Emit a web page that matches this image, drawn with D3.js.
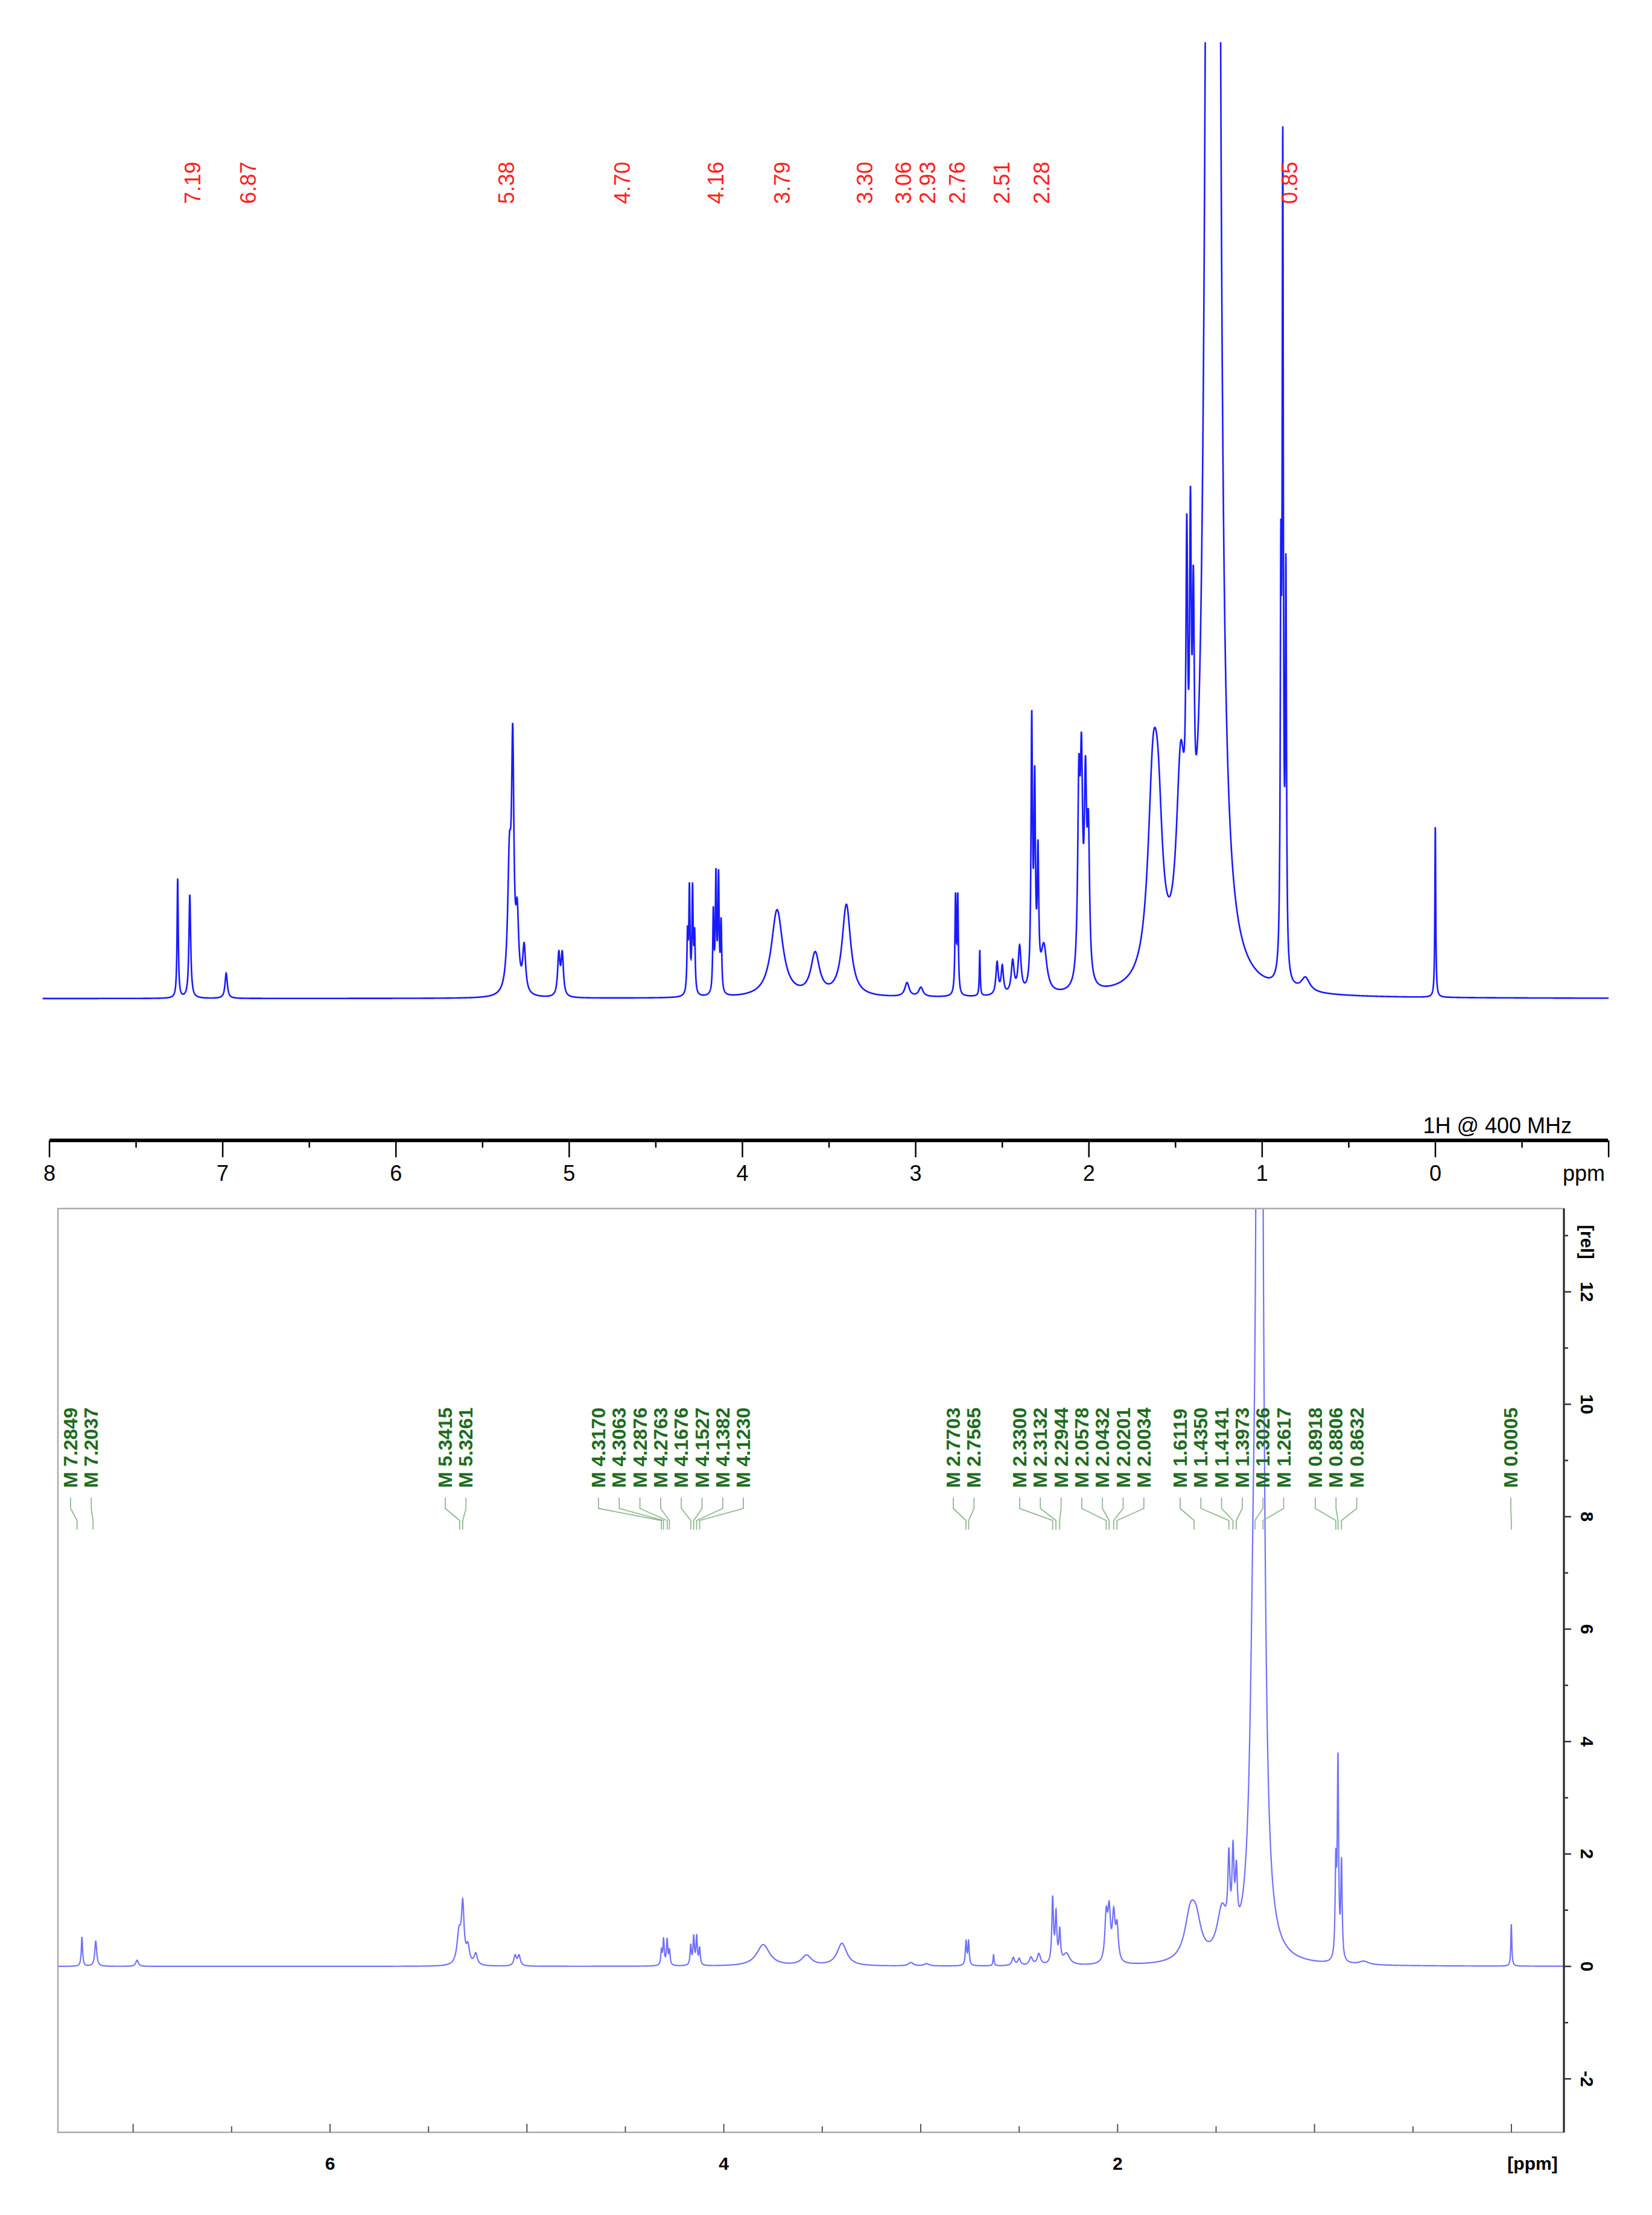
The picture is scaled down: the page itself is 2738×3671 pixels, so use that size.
<!DOCTYPE html>
<html><head><meta charset="utf-8">
<script src="https://cdn.jsdelivr.net/npm/d3@7"></script>
<style>body{margin:0;background:#fff}svg{display:block}</style>
</head><body>
<script>
// Peak list (ppm, height in rel units, half-width in ppm)
const peakPpm = [7.26,7.19,6.98,5.345,5.326,5.30,5.26,5.06,5.04,4.317,4.306,4.288,4.276,4.168,4.153,4.138,4.123,3.80,3.58,3.40,3.05,2.97,2.770,2.757,2.63,2.53,2.50,2.44,2.40,2.330,2.313,2.294,2.26,2.058,2.043,2.020,2.003,1.63,1.60,1.47,1.435,1.414,1.397,1.31,1.28,1.262,0.892,0.881,0.863,0.75,0.0005];
const peakH   = [0.52,0.45,0.11,0.55,1.0,0.3,0.2,0.18,0.18,0.25,0.45,0.45,0.25,0.35,0.5,0.5,0.3,0.38,0.18,0.4,0.06,0.04,0.42,0.42,0.2,0.14,0.12,0.14,0.2,1.15,0.85,0.55,0.2,0.8,0.85,0.8,0.6,0.8,0.5,0.8,1.3,1.4,1.0,4.2,60,4,1.6,3.5,1.7,0.06,0.75];
const peakW   = [0.004,0.006,0.008,0.012,0.008,0.01,0.01,0.008,0.008,0.004,0.004,0.004,0.004,0.004,0.004,0.004,0.004,0.04,0.03,0.03,0.015,0.015,0.004,0.004,0.003,0.008,0.008,0.01,0.01,0.005,0.005,0.005,0.02,0.008,0.008,0.008,0.008,0.035,0.03,0.03,0.006,0.006,0.006,0.02,0.008,0.018,0.004,0.004,0.004,0.03,0.003];
// Tick / label data
const topTicks = [8,7,6,5,4,3,2,1,0];
const redLabels = ["7.19","6.87","5.38","4.70","4.16","3.79","3.30","3.06","2.93","2.76","2.51","2.28","0.85"];
const redPos = [7.17,6.85,5.36,4.69,4.15,3.77,3.29,3.07,2.93,2.76,2.50,2.27,0.84];
const greenGroups = [
 {labels:["7.2849","7.2037"],x0:117},
 {labels:["5.3415","5.3261"],x0:738},
 {labels:["4.3170","4.3063","4.2876","4.2763","4.1676","4.1527","4.1382","4.1230"],x0:992},
 {labels:["2.7703","2.7565"],x0:1580},
 {labels:["2.3300","2.3132","2.2944","2.0578","2.0432","2.0201","2.0034"],x0:1690},
 {labels:["1.6119","1.4350","1.4141","1.3973","1.3026","1.2617"],x0:1956},
 {labels:["0.8918","0.8806","0.8632"],x0:2180},
 {labels:["0.0005"],x0:2504}];
const relTicks = [-2,0,2,4,6,8,10,12];
const ppmTicks2 = [6,4,2];

const W=2738,H=3671;
const svg=d3.select("body").append("svg").attr("width",W).attr("height",H);
const f=p=>{let s=0;for(let i=0;i<peakPpm.length;i++){const d=(p-peakPpm[i])/peakW[i];s+=peakH[i]/(1+d*d);}return s;};
const pts=d3.range(-1.0,8.04,0.0008).map(p=>[p,f(p)]);

// Top panel
const xT=d3.scaleLinear().domain([8,0]).range([82,2379]);
const yT=d3.scaleLinear().domain([0,1]).range([1655,1275]);
svg.append("clipPath").attr("id","ct").append("rect").attr("x",0).attr("y",70).attr("width",W).attr("height",1700);
svg.append("path").datum(pts).attr("clip-path","url(#ct)")
 .attr("d",d3.line().x(d=>xT(d[0])).y(d=>yT(d[1]))).attr("fill","none").attr("stroke","#1a1aff").attr("stroke-width",2.6);
svg.append("line").attr("x1",82).attr("x2",2665).attr("y1",1890).attr("y2",1890).attr("stroke","#000").attr("stroke-width",6);
const minor=d3.range(-1,8.01,0.5);
minor.forEach(v=>{const maj=Number.isInteger(v);
 svg.append("line").attr("x1",xT(v)).attr("x2",xT(v)).attr("y1",1890).attr("y2",1890+(maj?28:12)).attr("stroke","#000").attr("stroke-width",2.5);});
svg.append("g").selectAll("text").data(topTicks).join("text").attr("x",d=>xT(d)).attr("y",1957).attr("text-anchor","middle")
 .attr("font-family","Liberation Sans, Arial").attr("font-size",36).text(d=>d);
svg.append("text").attr("x",2660).attr("y",1957).attr("text-anchor","end").attr("font-family","Liberation Sans").attr("font-size",36).text("ppm");
svg.append("text").attr("x",2605).attr("y",1878).attr("text-anchor","end").attr("font-family","Liberation Sans").attr("font-size",36).text("1H @ 400 MHz");
svg.append("g").selectAll("text").data(redLabels).join("text")
 .attr("transform",(d,i)=>`translate(${xT(redPos[i])+12},338) rotate(-90)`)
 .attr("font-family","Liberation Sans").attr("font-size",36).attr("fill","#ff2020").text(d=>d);

// Bottom panel
const L=96,R=2592,T=2003,B=3534;
const xB=d3.scaleLinear().domain([6,0]).range([547,2505]);
const yB=d3.scaleLinear().domain([0,12]).range([3259,2141]);
svg.append("clipPath").attr("id","cb").append("rect").attr("x",L).attr("y",T).attr("width",R-L).attr("height",B-T);
svg.append("path").datum(pts).attr("clip-path","url(#cb)")
 .attr("d",d3.line().x(d=>xB(d[0])).y(d=>yB(d[1]))).attr("fill","none").attr("stroke","#7070ff").attr("stroke-width",2.2);
svg.append("rect").attr("x",L).attr("y",T).attr("width",R-L).attr("height",B-T).attr("fill","none").attr("stroke","#aaa").attr("stroke-width",2.5);
svg.append("line").attr("x1",R).attr("x2",R).attr("y1",T).attr("y2",B).attr("stroke","#222").attr("stroke-width",3);
d3.range(-3,14,1).forEach(v=>{if(yB(v)<T||yB(v)>B)return;
 svg.append("line").attr("x1",R).attr("x2",R+(v%2===0?12:7)).attr("y1",yB(v)).attr("y2",yB(v)).attr("stroke","#333").attr("stroke-width",2.5);});
svg.append("g").selectAll("text").data(relTicks).join("text")
 .attr("transform",d=>`translate(${R+28},${yB(d)}) rotate(90)`).attr("text-anchor","middle")
 .attr("font-family","Liberation Sans").attr("font-weight","bold").attr("font-size",30).text(d=>d);
svg.append("text").attr("transform",`translate(${R+28},2030) rotate(90)`).attr("font-family","Liberation Sans").attr("font-weight","bold").attr("font-size",30).text("[rel]");
d3.range(-0.5,7.5,0.5).forEach(v=>{const x=xB(v);if(x<L||x>R)return;
 svg.append("line").attr("x1",x).attr("x2",x).attr("y1",B).attr("y2",B-(Number.isInteger(v)?14:10)).attr("stroke","#555").attr("stroke-width",2);});
svg.append("g").selectAll("text").data(ppmTicks2).join("text").attr("x",d=>xB(d)).attr("y",3596).attr("text-anchor","middle")
 .attr("font-family","Liberation Sans").attr("font-weight","bold").attr("font-size",30).text(d=>d);
svg.append("text").attr("x",2540).attr("y",3596).attr("text-anchor","middle").attr("font-family","Liberation Sans").attr("font-weight","bold").attr("font-size",30).text("[ppm]");
greenGroups.forEach(g=>{
 const xs=g.labels.map((l,i)=>g.x0+i*34.3);
 const pk=g.labels.map(l=>xB(+l));
 g.labels.forEach((l,i)=>{
  svg.append("text").attr("transform",`translate(${xs[i]+11},2466) rotate(-90)`)
   .attr("font-family","Liberation Sans").attr("font-weight","bold").attr("font-size",32).attr("fill","#1e6b1e").text("M "+l);
  svg.append("path").attr("d",`M${xs[i]},2482 L${xs[i]},2500 L${pk[i]},2520 L${pk[i]},2535`)
   .attr("fill","none").attr("stroke","#8fb88f").attr("stroke-width",1.8);
 });
});
</script>
</body></html>
